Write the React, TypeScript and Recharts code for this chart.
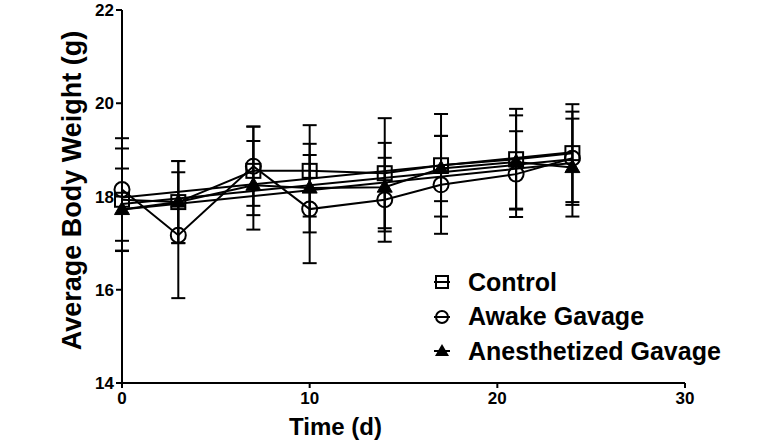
import { ComposedChart, Line, XAxis, YAxis, ErrorBar, Label } from 'recharts'

const days = [0, 3, 7, 10, 14, 17, 21, 24]
const control = [17.93, 17.88, 18.55, 18.55, 18.5, 18.67, 18.8, 18.93]
const controlErr = [1.1, 0.88, 0.95, 0.98, 1.18, 1.1, 1.08, 1.05]
const awake = [18.15, 17.17, 18.65, 17.73, 17.93, 18.25, 18.48, 18.82]
const awakeErr = [1.1, 1.35, 0.85, 1.16, 0.9, 1.05, 0.92, 1.0]
const anesth = [17.72, 17.88, 18.24, 18.18, 18.2, 18.6, 18.74, 18.62]
const anesthErr = [0.88, 0.88, 0.95, 0.95, 0.95, 0.7, 1.0, 1.05]

// straight fit lines, end values
const fitDays = [0, 24]
const controlFit = [17.98, 18.95]
const awakeFit = [17.72, 18.72]
const anesthFit = [17.84, 18.8]

const xTicks = [0, 10, 20, 30]
const yTicks = [14, 16, 18, 20, 22]
const seriesNames = ['Control', 'Awake Gavage', 'Anesthetized Gavage']

const rows = days.map((d, i) => ({
  day: d,
  control: control[i], controlErr: controlErr[i],
  awake: awake[i], awakeErr: awakeErr[i],
  anesth: anesth[i], anesthErr: anesthErr[i],
}))

const fitRows = fitDays.map((d, i) => ({
  day: d, control: controlFit[i], awake: awakeFit[i], anesth: anesthFit[i],
}))

const FONT = '"Liberation Sans", Arial, sans-serif'

const SquareDot = (props: any) => {
  const { cx, cy, key } = props
  if (cx == null || cy == null) return null
  return <rect key={key} x={cx - 7} y={cy - 7} width={14} height={14} fill="none" stroke="#000" strokeWidth={2} />
}

const CircleDot = (props: any) => {
  const { cx, cy, key } = props
  if (cx == null || cy == null) return null
  return <circle key={key} cx={cx} cy={cy} r={7.5} fill="none" stroke="#000" strokeWidth={2} />
}

const TriangleDot = (props: any) => {
  const { cx, cy, key } = props
  if (cx == null || cy == null) return null
  return <path key={key} d={`M${cx},${cy - 8} L${cx + 7.5},${cy + 5} L${cx - 7.5},${cy + 5} Z`} fill="#000" stroke="#000" strokeWidth={1} />
}

const LegendBox = () => {
  const icons = [
    <rect x={2} y={3} width={12} height={12} fill="none" stroke="#000" strokeWidth={2} />,
    <circle cx={8} cy={9} r={6} fill="none" stroke="#000" strokeWidth={2} />,
    <path d="M8,2 L15,14 L1,14 Z" fill="#000" />,
  ]
  return (
    <div style={{ position: 'absolute', left: 434, top: 265, fontFamily: FONT, fontWeight: 'bold', fontSize: 25, color: '#000' }}>
      {seriesNames.map((name, i) => (
        <div key={name} style={{ display: 'flex', alignItems: 'center', height: 34.5 }}>
          <svg width={16} height={18} style={{ marginRight: 18 }}>
            <line x1={0} y1={9} x2={16} y2={9} stroke="#000" strokeWidth={2} />
            {icons[i]}
          </svg>
          <span>{name}</span>
        </div>
      ))}
    </div>
  )
}

const tickStyle = { fontSize: 17, fontWeight: 'bold', fill: '#000', fontFamily: FONT }

export default function App() {
  return (
    <div style={{ position: 'absolute', left: 0, top: 0, width: 780, height: 445, background: '#fff' }}>
      <ComposedChart width={780} height={445} data={rows} margin={{ top: 10, right: 95, left: 0, bottom: 0 }}>
        <XAxis
          dataKey="day"
          type="number"
          domain={[0, 30]}
          ticks={xTicks}
          height={62}
          tick={tickStyle}
          axisLine={{ stroke: '#000', strokeWidth: 2 }}
          tickLine={{ stroke: '#000', strokeWidth: 2 }}
          tickSize={5}
          tickMargin={4}
        >
          <Label
            content={(p: any) => {
              const vb = p.viewBox
              return (
                <text x={vb.x + vb.width / 2 - 68} y={vb.y + 52} textAnchor="middle"
                  style={{ fontSize: 24, fontWeight: 'bold', fontFamily: FONT }} fill="#000">
                  Time (d)
                </text>
              )
            }}
          />
        </XAxis>
        <YAxis
          type="number"
          domain={[14, 22]}
          ticks={yTicks}
          width={122}
          tick={tickStyle}
          axisLine={{ stroke: '#000', strokeWidth: 2 }}
          tickLine={{ stroke: '#000', strokeWidth: 2 }}
          tickSize={6}
          tickMargin={2}
          allowDataOverflow
        >
          <Label
            content={(p: any) => {
              const vb = p.viewBox
              const cy = vb.y + vb.height / 2 - 6
              return (
                <text x={81} y={cy} textAnchor="middle" transform={`rotate(-90, 81, ${cy})`}
                  style={{ fontSize: 27, fontWeight: 'bold', fontFamily: FONT }} fill="#000">
                  Average Body Weight (g)
                </text>
              )
            }}
          />
        </YAxis>

        <Line data={fitRows} dataKey="control" name="controlFit" stroke="#000" strokeWidth={2} dot={false} legendType="none" isAnimationActive={false} />
        <Line data={fitRows} dataKey="awake" name="awakeFit" stroke="#000" strokeWidth={2} dot={false} legendType="none" isAnimationActive={false} />
        <Line data={fitRows} dataKey="anesth" name="anesthFit" stroke="#000" strokeWidth={2} dot={false} legendType="none" isAnimationActive={false} />

        <Line dataKey="control" name={seriesNames[0]} type="linear" stroke="#000" strokeWidth={2} dot={SquareDot} activeDot={false} isAnimationActive={false}>
          <ErrorBar dataKey="controlErr" direction="y" width={7} stroke="#000" strokeWidth={2} isAnimationActive={false} />
        </Line>
        <Line dataKey="awake" name={seriesNames[1]} type="linear" stroke="#000" strokeWidth={2} dot={CircleDot} activeDot={false} isAnimationActive={false}>
          <ErrorBar dataKey="awakeErr" direction="y" width={7} stroke="#000" strokeWidth={2} isAnimationActive={false} />
        </Line>
        <Line dataKey="anesth" name={seriesNames[2]} type="linear" stroke="#000" strokeWidth={2} dot={TriangleDot} activeDot={false} isAnimationActive={false}>
          <ErrorBar dataKey="anesthErr" direction="y" width={7} stroke="#000" strokeWidth={2} isAnimationActive={false} />
        </Line>
      </ComposedChart>
      <LegendBox />
    </div>
  )
}
